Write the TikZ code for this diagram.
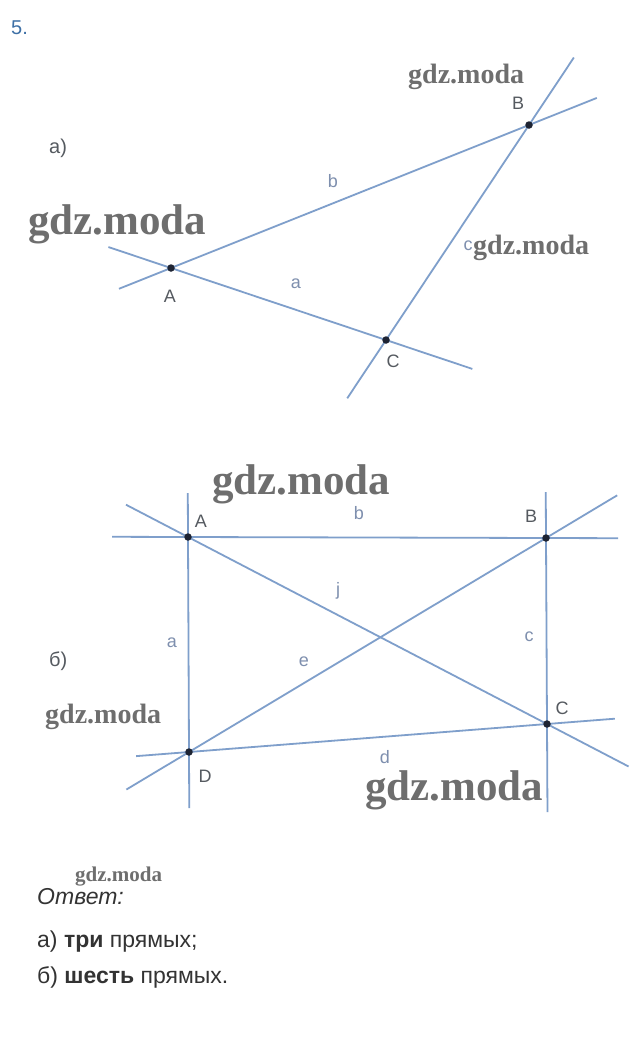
\documentclass[tikz,border=0pt]{standalone}
\usepackage{fontspec}
\setmainfont{Liberation Sans}
\newfontfamily\wmfont{Liberation Serif}
\begin{document}
\begin{tikzpicture}[x=1pt,y=-1pt,
  ln/.style={draw=lineblue, line width=1.8pt},
  dot/.style={circle, fill=dotcol, inner sep=0pt, minimum size=7.5pt},
  ptlab/.style={font=\fontsize{18}{18}\selectfont, text=labgray, inner sep=0pt},
  lnlab/.style={font=\fontsize{18}{18}\selectfont, text=lnlabcol, inner sep=0pt},
  wm/.style={font=\wmfont\bfseries\fontsize{#1}{#1}\selectfont, text=wmgray, inner sep=0pt, anchor=west},
  ans/.style={font=\fontsize{23}{23}\selectfont, text=txtgray, inner sep=0pt, anchor=west}]
\definecolor{lineblue}{HTML}{7F9FCB}
\definecolor{dotcol}{HTML}{1E2433}
\definecolor{labgray}{HTML}{555A60}
\definecolor{lnlabcol}{HTML}{7E8FAE}
\definecolor{wmgray}{HTML}{6E6E6E}
\definecolor{txtgray}{HTML}{333333}
\definecolor{numblue}{HTML}{3E70A6}
\fill[white] (0,0) rectangle (639,1058);
\useasboundingbox (0,0) rectangle (639,1058);

\node[font=\fontsize{20}{20}\selectfont, text=numblue, anchor=west, inner sep=0pt] (num) at (11,28) {5.};

% ---- part a ----
\node[font=\fontsize{20}{20}\selectfont, text=labgray, anchor=west, inner sep=0pt] (pa) at (49,148) {а)};
\coordinate (aA) at (171,268);
\coordinate (aB) at (529,125);
\coordinate (aC) at (386,340);
\draw[ln, shorten <=-66pt, shorten >=-91pt] (aA) -- (aC);
\draw[ln, shorten <=-56pt, shorten >=-73pt] (aA) -- (aB);
\draw[ln, shorten <=-70pt, shorten >=-81pt] (aC) -- (aB);
\node[dot] (dA) at (aA) {};
\node[dot] (dB) at (aB) {};
\node[dot] (dC) at (aC) {};
\node[ptlab] (lA) at (170,296) {A};
\node[ptlab] (lB) at (518,103) {B};
\node[ptlab] (lC) at (393,361) {C};
\node[lnlab] (la) at (296,284) {a};
\node[lnlab] (lb) at (333,181) {b};
\node[lnlab] (lc) at (468,246) {c};
\node[wm=28] (w1) at (408,77) {gdz.moda};
\node[wm=43] (w2) at (28,224) {gdz.moda};
\node[wm=28] (w3) at (473,248) {gdz.moda};

% ---- part b ----
\node[font=\fontsize{20}{20}\selectfont, text=labgray, anchor=west, inner sep=0pt] (pb) at (49,661) {б)};
\coordinate (bA) at (188,537);
\coordinate (bB) at (546,538);
\coordinate (bC) at (547,724);
\coordinate (bD) at (189,752);
\draw[ln, shorten <=-76pt, shorten >=-72pt] (bA) -- (bB);
\draw[ln, shorten <=-44pt, shorten >=-56pt] (bA) -- (bD);
\draw[ln, shorten <=-46pt, shorten >=-88pt] (bB) -- (bC);
\draw[ln, shorten <=-53pt, shorten >=-68pt] (bD) -- (bC);
\draw[ln, shorten <=-70pt, shorten >=-92pt] (bA) -- (bC);
\draw[ln, shorten <=-73pt, shorten >=-83pt] (bD) -- (bB);
\node[dot] (eA) at (bA) {};
\node[dot] (eB) at (bB) {};
\node[dot] (eC) at (bC) {};
\node[dot] (eD) at (bD) {};
\node[ptlab] (mA) at (201,521) {A};
\node[ptlab] (mB) at (531,516) {B};
\node[ptlab] (mC) at (562,708) {C};
\node[ptlab] (mD) at (205,776) {D};
\node[lnlab] (ma) at (172,643) {a};
\node[lnlab] (mb) at (359,513) {b};
\node[lnlab] (mc) at (529,637) {c};
\node[lnlab] (md) at (385,757) {d};
\node[lnlab] (me) at (304,662) {e};
\node[lnlab] (mj) at (338,591) {j};
\node[wm=43] (w4) at (212,484) {gdz.moda};
\node[wm=28] (w5) at (45,717) {gdz.moda};
\node[wm=43] (w6) at (365,790) {gdz.moda};
\node[wm=21] (w7) at (75,877) {gdz.moda};

% ---- answer ----
\node[ans, font=\itshape\fontsize{23}{23}\selectfont] (t1) at (37,897) {Ответ:};
\node[ans] (t2) at (37,942) {а) \textbf{три} прямых;};
\node[ans] (t3) at (37,977) {б) \textbf{шесть} прямых.};
\end{tikzpicture}
\end{document}
